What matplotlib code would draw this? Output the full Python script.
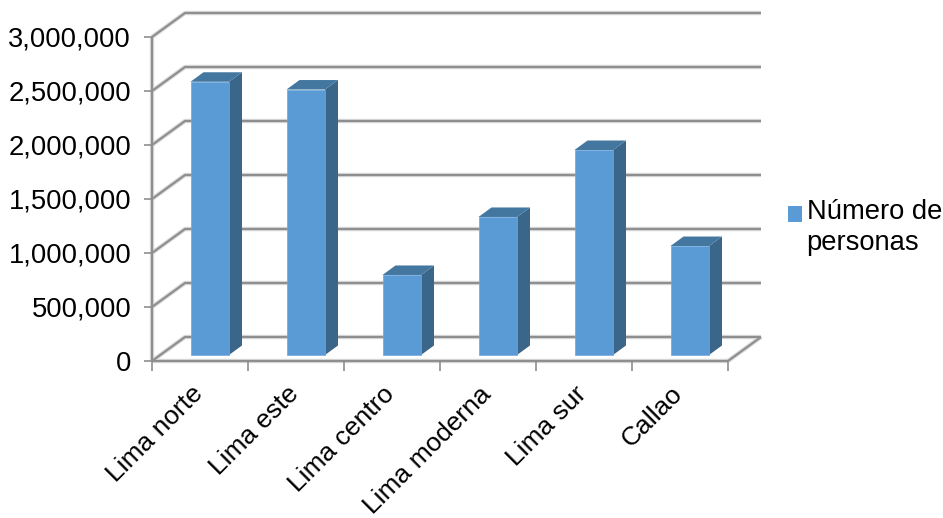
import matplotlib
matplotlib.use("Agg")
import matplotlib.pyplot as plt
from matplotlib.patches import Patch, Polygon
from matplotlib.ticker import FuncFormatter

plt.rcParams["font.family"] = ["Liberation Sans", "DejaVu Sans"]

zones = ["Lima norte", "Lima este", "Lima centro", "Lima moderna", "Lima sur", "Callao"]
personas = [2530000, 2458000, 741000, 1278000, 1898000, 1009000]
y_ticks = [0, 500000, 1000000, 1500000, 2000000, 2500000, 3000000]
series_name = "Número de\npersonas"

FRONT = "#5b9bd5"
SIDE = "#3a6689"
TOP = "#44779f"
GRID = "#8f8f8f"
HALO = "#dcdcdc"
FONT = 19.7

W, H = 943, 518
fig = plt.figure(figsize=(W / 100, H / 100), dpi=100)
ax = fig.add_axes([152 / W, (H - 361) / H, 576 / W, 324 / H])
ax.set_xlim(0, len(zones))
ax.set_ylim(0, 3000000)

# pixels to data units, the fake 3D is all offsets
px_x = len(zones) / 576
px_y = 3000000 / 324
wall_dx, wall_dy = 33 * px_x, 24 * px_y
bar_dx, bar_dy = 13 * px_x, 9.5 * px_y
bar_lift = 6 * px_y
bar_w = 38.5 * px_x
bar_pad = 38.5 * px_x


def soft_line(xs, ys):
    ax.plot(xs, ys, color=HALO, lw=3.2, clip_on=False, zorder=1, solid_capstyle="butt")
    ax.plot(xs, ys, color=GRID, lw=1.6, clip_on=False, zorder=2, solid_capstyle="butt")


n = len(zones)
for v in y_ticks:
    soft_line([0, wall_dx, n + wall_dx], [v, v + wall_dy, v + wall_dy])
soft_line([n, n + wall_dx], [0, wall_dy])
soft_line([0, 0], [0, 3000000])
soft_line([0, n], [0, 0])

lefts = [i + bar_pad for i in range(n)]
ax.bar(lefts, personas, width=bar_w, bottom=bar_lift, align="edge", color=FRONT,
       edgecolor="#6fa8dc", linewidth=0.5, zorder=5)
for x0, v in zip(lefts, personas):
    x1 = x0 + bar_w
    top = v + bar_lift
    ax.add_patch(Polygon([(x1, bar_lift), (x1 + bar_dx, bar_lift + bar_dy),
                          (x1 + bar_dx, top + bar_dy), (x1, top)],
                         facecolor=SIDE, edgecolor="none", clip_on=False, zorder=4))
    ax.add_patch(Polygon([(x0, top), (x0 + bar_dx, top + bar_dy),
                          (x1 + bar_dx, top + bar_dy), (x1, top)],
                         facecolor=TOP, edgecolor="none", clip_on=False, zorder=4))

for s in ax.spines.values():
    s.set_visible(False)
ax.patch.set_visible(False)

ax.set_yticks(y_ticks)
ax.yaxis.set_major_formatter(FuncFormatter(lambda v, _: f"{int(v):,}"))
ax.tick_params(axis="y", length=6, width=1.2, color=GRID, labelsize=FONT, pad=9)

# ticks sit between categories, labels go on the minor locations
ax.set_xticks(range(n + 1))
ax.set_xticklabels([])
ax.set_xticks([i + 0.40 for i in range(n)], minor=True)
ax.set_xticklabels(zones, minor=True, rotation=45, ha="right", va="top",
                   rotation_mode="anchor", fontsize=19)
ax.tick_params(axis="x", which="major", length=7, width=1.2, color=GRID)
ax.tick_params(axis="x", which="minor", length=0, pad=15)

leg = fig.legend(handles=[Patch(facecolor=FRONT, label=series_name)],
                 loc="upper left", bbox_to_anchor=(788 / W, 1 - 199 / H), frameon=False,
                 fontsize=FONT, handlelength=0.5, handleheight=0.5, handletextpad=0.18,
                 labelspacing=0, borderpad=0, borderaxespad=0)
# swatch lines up with the first text line, not the middle of both
swatch = leg.legend_handles[0]
swatch.set_y(swatch.get_y() + 10)
leg.get_texts()[0].set_linespacing(1.25)

fig.savefig("out.png", dpi=100)
